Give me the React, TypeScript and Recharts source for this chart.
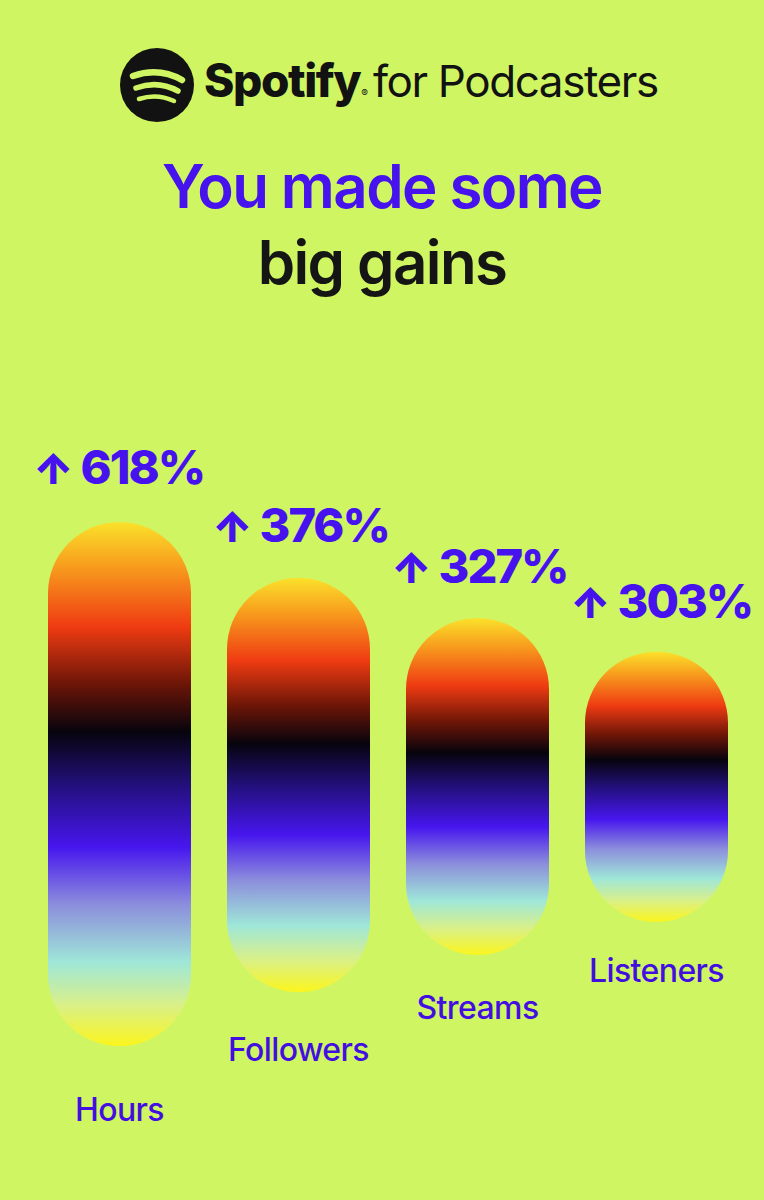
import React from "react";
import { BarChart, Bar, XAxis, YAxis, LabelList } from "recharts";

// bars float: low/high (0–100 plot scale)
const categories = ["Hours", "Followers", "Streams", "Listeners"];
const barLow = [9, 18, 24.2, 29.7];
const barHigh = [96.3, 87, 80.3, 74.7];
const gains = [618, 376, 327, 303];

const BG = "#cff563";
const PURPLE = "#4612ee";
const FONT = "Inter, 'Noto Sans', sans-serif";

const data = categories.map((name, i) => ({
  name,
  range: [barLow[i], barHigh[i]],
  gain: gains[i],
}));

const GainLabel = (props: any) => {
  const { x, y, height, value } = { ...(props.viewBox || {}), ...props };
  const up = 28 + 0.02 * height;
  return (
    <text x={x - 15} y={y - up} fill={PURPLE} fontSize={47} fontWeight={800} fontFamily={FONT} letterSpacing={-2}>
      <tspan fontSize={42} fontWeight={900}>↑</tspan>
      <tspan dx={9}>{value}%</tspan>
    </text>
  );
};

const NameLabel = (props: any) => {
  const { x, y, width, height, value } = { ...(props.viewBox || {}), ...props };
  const down = 45 + 0.058 * height;
  return (
    <text x={x + width / 2} y={y + height + down} textAnchor="middle" fill="#420fe0" fontSize={32} fontWeight={500} fontFamily={FONT} letterSpacing={-0.6}>
      {value}
    </text>
  );
};

const SpotifyMark = () => (
  <svg width={76} height={76} viewBox="-38 -38 76 76" style={{ position: "absolute", left: 119, top: 47 }}>
    <circle cx={0} cy={0} r={37} fill="#121212" />
    <path d="M -24 -9 Q 2 -18 25 -5" stroke={BG} strokeWidth={6.5} fill="none" strokeLinecap="round" />
    <path d="M -21 3 Q 1 -5 21 6" stroke={BG} strokeWidth={5.5} fill="none" strokeLinecap="round" />
    <path d="M -18 14 Q 0 8 17 16" stroke={BG} strokeWidth={4.5} fill="none" strokeLinecap="round" />
  </svg>
);

export default function App() {
  return (
    <div style={{ position: "relative", width: 764, height: 1200, background: BG, overflow: "hidden", fontFamily: FONT }}>
      <style>{"body{margin:0}"}</style>

      <SpotifyMark />
      <div style={{ position: "absolute", left: 204, top: 52, fontSize: 46, lineHeight: "56px", color: "#121212", whiteSpace: "nowrap" }}>
        <span style={{ fontWeight: 800, letterSpacing: -1.4 }}>Spotify</span>
        <span style={{ fontSize: 10, fontWeight: 400, marginLeft: 1 }}>®</span>
        <span style={{ fontWeight: 400, fontSize: 44, marginLeft: 5, letterSpacing: -1.4 }}>for Podcasters</span>
      </div>

      <div style={{ position: "absolute", left: 0, width: 764, top: 148, textAlign: "center", fontSize: 60, lineHeight: "76px", fontWeight: 600, letterSpacing: -1.6 }}>
        <div style={{ color: PURPLE }}>You made some</div>
        <div style={{ color: "#151515" }}>big gains</div>
      </div>

      <div style={{ position: "absolute", left: 0, top: 0 }}>
        <BarChart width={764} height={1200} data={data} margin={{ top: 500, right: 18, bottom: 100, left: 30 }}>
          <defs>
            <linearGradient id="pill" x1="0" y1="0" x2="0" y2="1">
              <stop offset="0" stopColor="#fbe12a" />
              <stop offset="0.08" stopColor="#f8a01e" />
              <stop offset="0.2" stopColor="#ef3b12" />
              <stop offset="0.31" stopColor="#6b1507" />
              <stop offset="0.4" stopColor="#07040d" />
              <stop offset="0.5" stopColor="#22107a" />
              <stop offset="0.62" stopColor="#4716ee" />
              <stop offset="0.73" stopColor="#8c8edc" />
              <stop offset="0.84" stopColor="#9fe7d8" />
              <stop offset="0.92" stopColor="#d8f08a" />
              <stop offset="1" stopColor="#fbf51e" />
            </linearGradient>
          </defs>
          <XAxis dataKey="name" hide />
          <YAxis hide domain={[0, 100]} />
          <Bar dataKey="range" fill="url(#pill)" barSize={143} radius={71} isAnimationActive={false}>
            <LabelList dataKey="gain" content={GainLabel} />
            <LabelList dataKey="name" content={NameLabel} />
          </Bar>
        </BarChart>
      </div>
    </div>
  );
}
